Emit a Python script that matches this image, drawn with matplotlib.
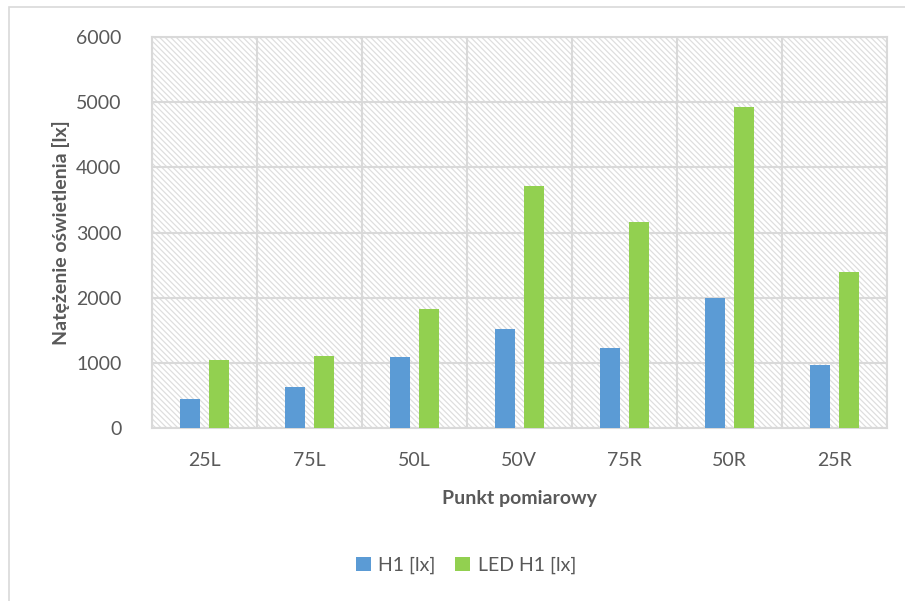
import numpy as np
import matplotlib.pyplot as plt
from matplotlib.patches import Rectangle

# punkty pomiarowe i natężenie oświetlenia
punkty = ['25L', '75L', '50L', '50V', '75R', '50R', '25R']
h1 = [455, 630, 1100, 1525, 1230, 2000, 975]
led_h1 = [1040, 1115, 1825, 3720, 3170, 4920, 2390]
y_ticks = [0, 1000, 2000, 3000, 4000, 5000, 6000]

plt.rcParams['font.family'] = ['Lato', 'DejaVu Sans']
plt.rcParams['hatch.linewidth'] = 0.9
szary = '#595959'
siatka = '#d9d9d9'

fig = plt.figure(figsize=(9.05, 6.01), dpi=100)
ax = fig.add_axes([0.168, 0.2874, 0.8118, 0.651])

# ramka wykresu (przycięta z prawej i z dołu)
fig.patches.append(Rectangle((9 / 905, -0.05), 1.2, 1 - 7 / 601 + 0.05,
                             transform=fig.transFigure, fill=False,
                             edgecolor=siatka, lw=1.2))

# tło z kreskowaniem
ax.add_patch(Rectangle((0, 0), 1, 1, transform=ax.transAxes, facecolor='white',
                       edgecolor='#dedede', hatch='\\' * 6, lw=0, zorder=0))

x = np.arange(len(punkty))
w = 0.19
ax.bar(x - 0.14, h1, w, color='#5B9BD5', label='H1 [lx]', zorder=3)
ax.bar(x + 0.14, led_h1, w, color='#92D050', label='LED H1 [lx]', zorder=3)

ax.set_xlim(-0.5, len(punkty) - 0.5)
ax.set_ylim(0, 6000)
ax.set_yticks(y_ticks)
ax.set_xticks(x)
ax.set_xticklabels(punkty)
ax.set_xticks(np.arange(len(punkty) + 1) - 0.5, minor=True)
ax.grid(True, which='major', axis='y', color=siatka, lw=1.5, zorder=1)
ax.grid(True, which='minor', axis='x', color=siatka, lw=1.5, zorder=1)
ax.tick_params(which='both', length=0)
ax.tick_params(axis='y', pad=22, labelsize=14, labelcolor=szary)
ax.tick_params(axis='x', pad=17, labelsize=14, labelcolor=szary)
for s in ax.spines.values():
    s.set_color(siatka)
    s.set_linewidth(1.5)

ax.set_xlabel('Punkt pomiarowy', fontsize=14, fontweight='bold', color=szary, labelpad=15)
ax.set_ylabel('Natężenie oświetlenia [lx]', fontsize=14, fontweight='bold', color=szary, labelpad=4)

fig.legend(loc='center', bbox_to_anchor=(466 / 905, 1 - 565 / 601), ncol=2, frameon=False,
           fontsize=14, labelcolor=szary, handlelength=0.75, handleheight=0.75,
           handletextpad=0.4, columnspacing=1.0)

fig.savefig('out.png', dpi=100)
